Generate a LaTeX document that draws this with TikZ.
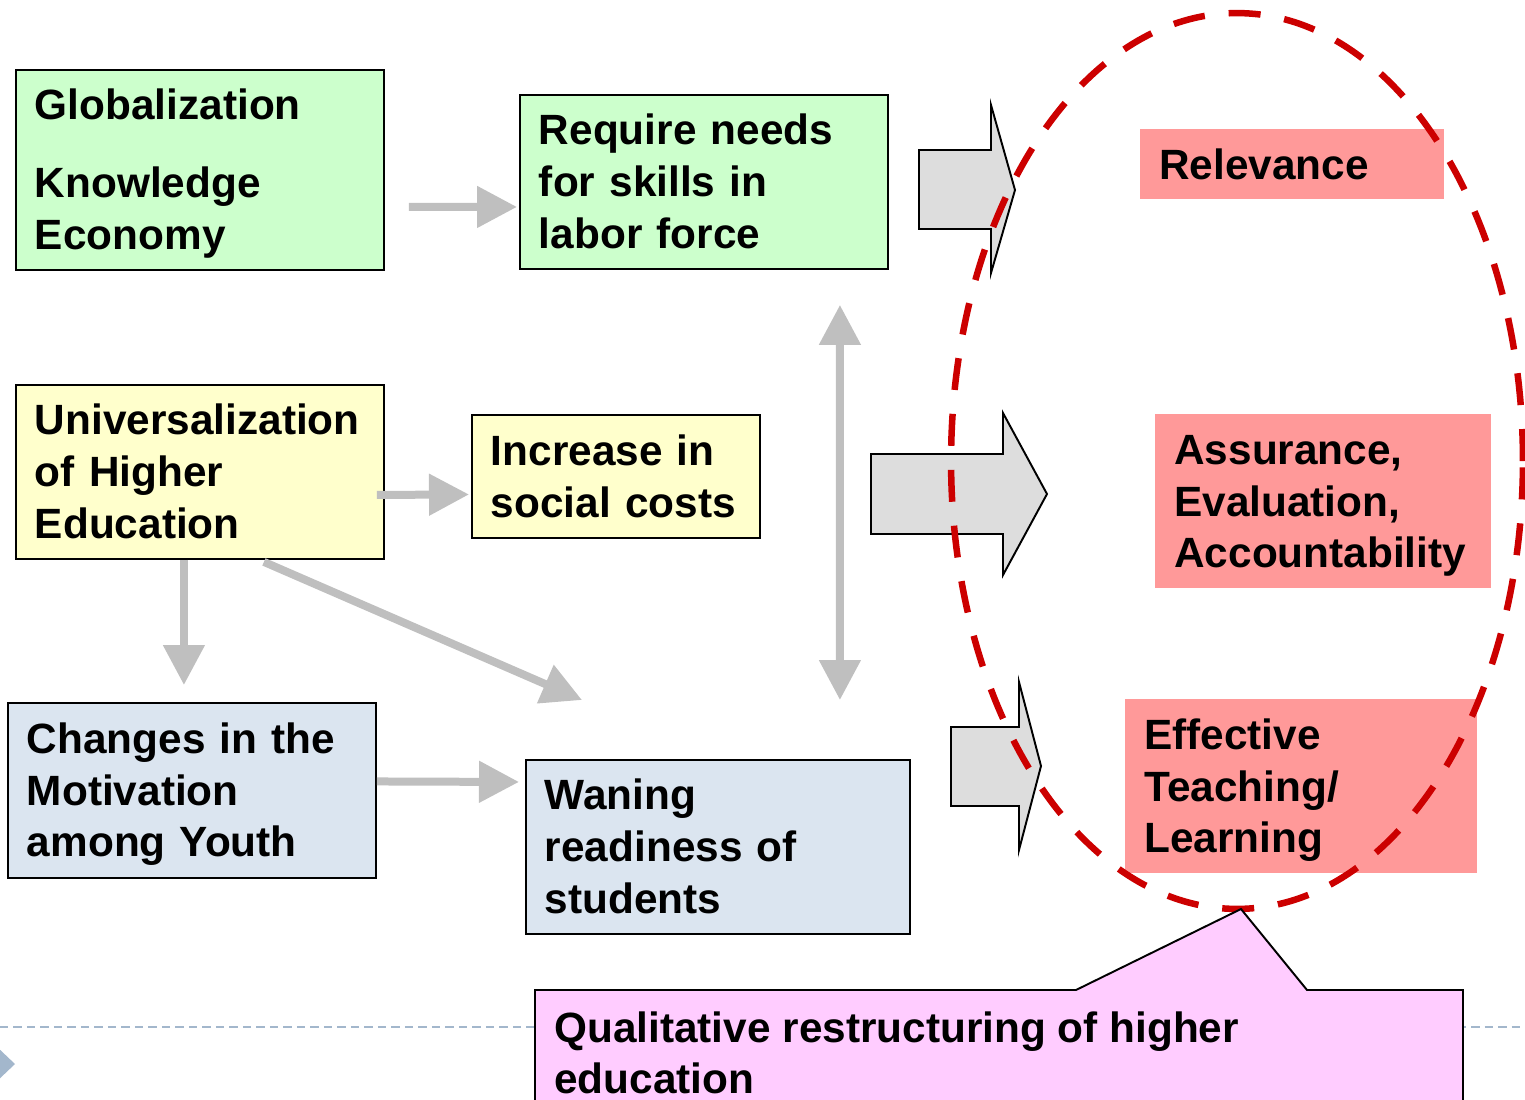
\documentclass[tikz,border=0pt]{standalone}
\usepackage{fontspec}
\setmainfont{Liberation Sans}
\usetikzlibrary{positioning}
\usetikzlibrary{calc}
\usetikzlibrary{arrows.meta}

\definecolor{boxgreen}{HTML}{CCFFCC}
\definecolor{boxyellow}{HTML}{FFFFCC}
\definecolor{boxblue}{HTML}{DBE5F0}
\definecolor{boxred}{HTML}{FF9999}
\definecolor{boxpink}{HTML}{FFCCFF}
\definecolor{arrowgray}{HTML}{BFBFBF}
\definecolor{blockgray}{HTML}{DDDDDD}
\definecolor{ringred}{HTML}{CC0000}
\definecolor{ruleblue}{HTML}{A3B7CC}

\begin{document}
\begin{tikzpicture}[x=0.02cm,y=-0.02cm,
  txt/.style={font=\fontsize{24.1}{29.5}\selectfont\bfseries, align=left,
    anchor=north west, inner xsep=0.38cm, inner ysep=0pt,
    execute at begin node={\rule{0pt}{0.905em}},
    execute at end node={\rule[-0.212em]{0pt}{0.212em}}},
  framed/.style={txt, draw=black, line width=1.1pt},
  greenbox/.style={framed, fill=boxgreen},
  yellowbox/.style={framed, fill=boxyellow},
  bluebox/.style={framed, fill=boxblue},
  redbox/.style={txt, fill=boxred},
  grayarrow/.style={draw=arrowgray, line width=0.16cm,
    -{Triangle[length=0.8cm,width=0.8cm]}},
  blockarrow/.style={fill=blockgray, draw=black, line width=1.1pt}]
\useasboundingbox (0,0) rectangle (1525,1099);

\draw[ruleblue, line width=1.1pt, dash pattern=on 0.17cm off 0.1cm] (0,1027) -- (1525,1027);
\fill[ruleblue] (-5,1045) -- (15,1064) -- (-5,1083) -- cycle;

\node[greenbox, text width=6.6cm, minimum height=4cm] (glob) at (15,69)
  {Globalization\\[14.7pt]Knowledge\\Economy};
\node[greenbox, text width=6.6cm, minimum height=3.48cm] (req) at (519,94)
  {Require needs\\for skills in\\labor force};
\node[yellowbox, text width=6.6cm, minimum height=3.48cm] (univ) at (15,384)
  {Universalization\\of Higher\\Education};
\node[yellowbox, text width=5cm, minimum height=2.46cm] (incr) at (471,414)
  {Increase in\\social costs};
\node[bluebox, text width=6.6cm, minimum height=3.5cm] (chg) at (7,702)
  {Changes in the\\Motivation\\among Youth};
\node[bluebox, text width=6.92cm, minimum height=3.48cm] (wan) at (525,759)
  {Waning\\readiness of\\students};

\node[redbox, text width=5.32cm, minimum height=1.4cm] (rel) at (1140,129) {Relevance};
\node[redbox, text width=5.96cm, minimum height=3.48cm] (ass) at (1155,414)
  {Assurance,\\Evaluation,\\Accountability};
\node[redbox, text width=6.28cm, minimum height=3.48cm] (eff) at (1125,699)
  {Effective\\Teaching/\\Learning};

\coordinate (gap) at (582,700);
\draw[grayarrow] ($(glob.east)+(24,37)$) -- ($(req.west)+(-2,25)$);
\draw[grayarrow] ($(univ.east)+(-8,23)$) -- ($(incr.west)+(-2,18)$);
\draw[grayarrow] ($(univ.south)+(-16,0)$) -- ($(chg.north)+(-8,-17)$);
\draw[grayarrow] ($(univ.south)+(64,2)$) -- (gap);
\draw[grayarrow, {Triangle[length=0.8cm,width=0.8cm]}-{Triangle[length=0.8cm,width=0.8cm]}]
  ($(req.south)+(136,35)$) -- ($(wan.north)+(122,-59)$);
\draw[grayarrow] ($(chg.east)+(0,-9)$) -- ($(wan.west)+(-6,-65)$);

\draw[blockarrow] (919,150) -- (991,150) -- (991,105) -- (1015,190) -- (991,273)
  -- (991,229) -- (919,229) -- cycle;
\draw[blockarrow] (871,454) -- (1003,454) -- (1003,413) -- (1047,494) -- (1003,575)
  -- (1003,534) -- (871,534) -- cycle;
\draw[blockarrow] (951,727) -- (1019,727) -- (1019,682) -- (1041,766) -- (1019,850)
  -- (1019,806) -- (951,806) -- cycle;

\draw[ringred, line width=0.13cm, dash pattern=on 0.64cm off 0.48cm]
  (1237,461) ellipse [x radius=5.72cm, y radius=8.96cm];

\draw[fill=boxpink, line width=1.1pt] (535,1115) -- (535,990) -- (1076,990) -- (1241,909)
  -- (1307,990) -- (1463,990) -- (1463,1115);
\node[txt] (qual) at (535,1011) {Qualitative restructuring of higher\\education};

\end{tikzpicture}
\end{document}
